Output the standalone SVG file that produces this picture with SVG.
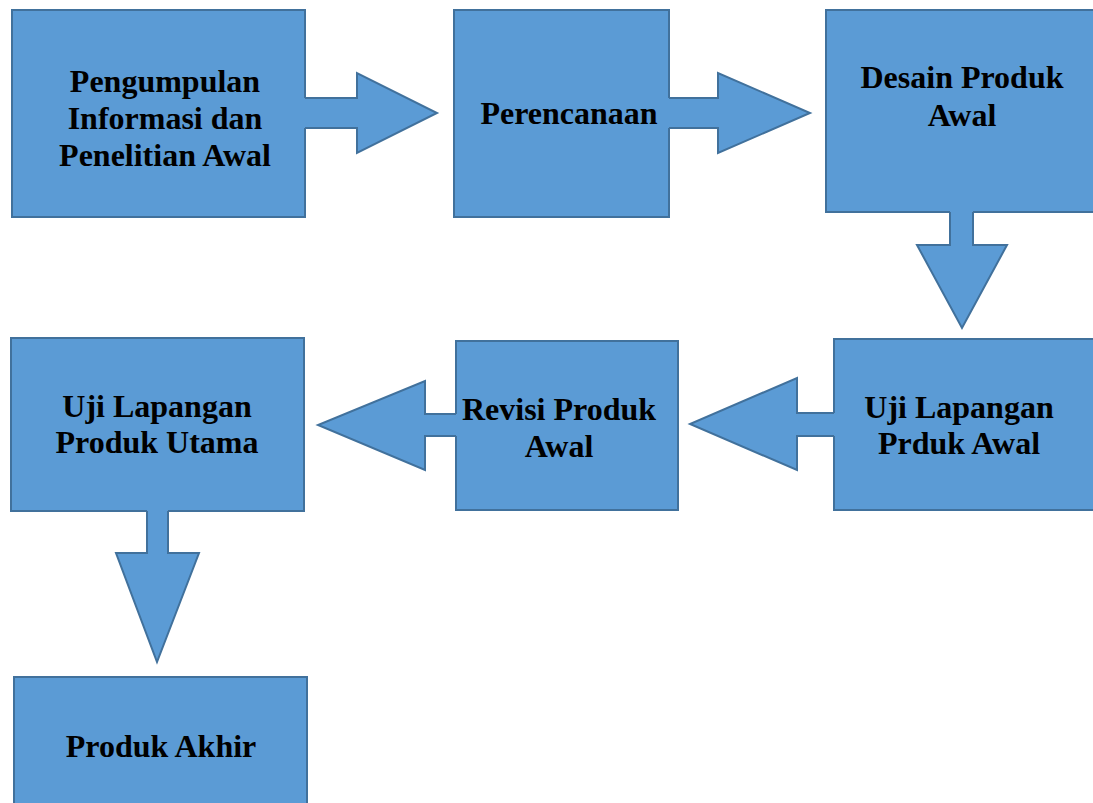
<svg xmlns="http://www.w3.org/2000/svg" width="1093" height="803" viewBox="0 0 1093 803">
<style>
.box{fill:#5B9BD5;stroke:#41719C;stroke-width:2}
.af{fill:#5B9BD5;stroke:none}
.as{fill:none;stroke:#41719C;stroke-width:2;stroke-linejoin:miter}
text{font-family:"Liberation Serif","Times New Roman",serif;font-weight:bold;font-size:32px;fill:#000;text-anchor:middle}
</style>
<rect width="1093" height="803" fill="#fff"/>
<g id="n1"><rect class="box" x="12" y="10" width="293" height="207"/>
<text x="165" y="92">Pengumpulan</text><text x="165" y="129">Informasi dan</text><text x="165" y="166">Penelitian Awal</text></g>
<g id="n2"><rect class="box" x="454" y="10" width="215" height="207"/>
<text x="569" y="124">Perencanaan</text></g>
<g id="n3"><rect class="box" x="826" y="10" width="270" height="202"/>
<text x="962" y="88">Desain Produk</text><text x="962" y="126">Awal</text></g>
<g id="n4"><rect class="box" x="834" y="339" width="262" height="171"/>
<text x="959" y="418">Uji Lapangan</text><text x="959" y="454">Prduk Awal</text></g>
<g id="n5"><rect class="box" x="456" y="341" width="222" height="169"/>
<text x="559" y="420">Revisi Produk</text><text x="559" y="457">Awal</text></g>
<g id="n6"><rect class="box" x="11" y="338" width="293" height="173"/>
<text x="157" y="417">Uji Lapangan</text><text x="157" y="453">Produk Utama</text></g>
<g id="n7"><rect class="box" x="14" y="677" width="293" height="130"/>
<text x="161" y="757">Produk Akhir</text></g>
<g id="connectors">
<polygon class="af" points="303,98 357,98 357,73 437,113 357,153 357,128 303,128"/>
<polyline class="as" points="305,98 357,98 357,73 437,113 357,153 357,128 305,128"/>
<polygon class="af" points="667,98 718,98 718,73 810,113 718,153 718,128 667,128"/>
<polyline class="as" points="669,98 718,98 718,73 810,113 718,153 718,128 669,128"/>
<polygon class="af" points="950,210 950,245 917,245 962,328 1007,245 973,245 973,210"/>
<polyline class="as" points="950,212 950,245 917,245 962,328 1007,245 973,245 973,212"/>
<polygon class="af" points="836,413 797,413 797,378 690,424 797,470 797,436 836,436"/>
<polyline class="as" points="834,413 797,413 797,378 690,424 797,470 797,436 834,436"/>
<polygon class="af" points="458,414 425,414 425,381 318,425 425,470 425,436 458,436"/>
<polyline class="as" points="456,414 425,414 425,381 318,425 425,470 425,436 456,436"/>
<polygon class="af" points="147,509 147,553 116,553 157,662 199,553 168,553 168,509"/>
<polyline class="as" points="147,511 147,553 116,553 157,662 199,553 168,553 168,511"/>
</g>
</svg>
